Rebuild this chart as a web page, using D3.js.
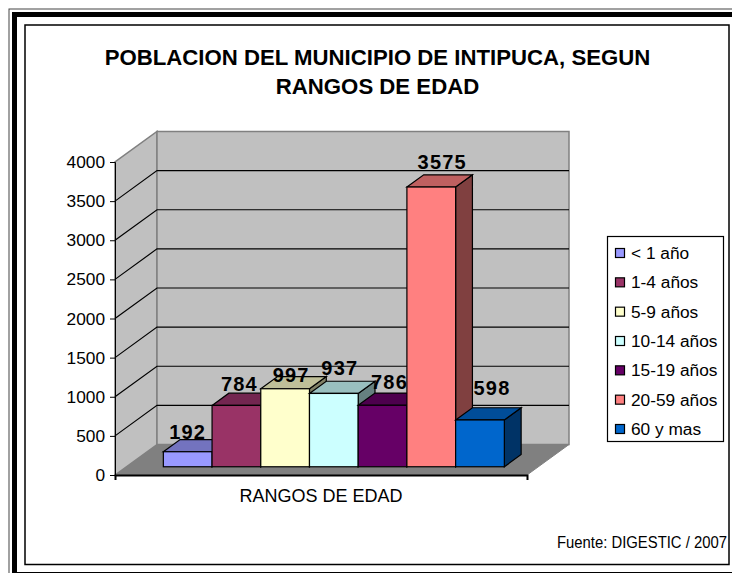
<!DOCTYPE html>
<html>
<head>
<meta charset="utf-8">
<script src="https://cdn.jsdelivr.net/npm/d3@7"></script>
<style>
  html, body { margin: 0; padding: 0; background: #fff; overflow: hidden; }
  text { font-family: "Liberation Sans", Arial, sans-serif; fill: #000; }
</style>
</head>
<body>
<div id="chart"></div>
<script>
// Values
const categories = ["< 1 año", "1-4 años", "5-9 años", "10-14 años", "15-19 años", "20-59 años", "60 y mas"];
const values = [192, 784, 997, 937, 786, 3575, 598];
const faceColors = ["#9999ff", "#993366", "#ffffcc", "#ccffff", "#660066", "#ff8080", "#0066cc"];
const topColors = ["#7373bf", "#732650", "#bfbf99", "#99bfbf", "#4d004d", "#bf6060", "#004d99"];
const sideColors = ["#4d4d80", "#4d1a33", "#808066", "#668080", "#330033", "#804040", "#003366"];
const yTicks = [0, 500, 1000, 1500, 2000, 2500, 3000, 3500, 4000];
const titleLines = ["POBLACION DEL MUNICIPIO DE INTIPUCA, SEGUN", "RANGOS DE EDAD"];

const width = 732, height = 573;
const svg = d3.select("#chart").append("svg")
    .attr("width", width)
    .attr("height", height)
    .style("display", "block");

// picture frame
const frame = svg.append("g").attr("fill", "none").attr("stroke", "#000");
frame.append("rect").attr("x", 9).attr("y", 9).attr("width", 740).attr("height", 580).attr("stroke", "#444");
frame.append("rect").attr("x", 14.5).attr("y", 14.5).attr("width", 730).attr("height", 560).attr("stroke-width", 5);
frame.append("rect").attr("x", 25).attr("y", 25).attr("width", 704).attr("height", 539.5).attr("stroke-width", 1.5);

// front plane scales, the back wall is the same thing shifted by depth
const depthX = 42, depthY = -30.5;
const y = d3.scaleLinear().domain([0, 4000]).range([475, 162]);
const x = d3.scaleBand().domain(categories).range([152, 493]);
const frontLeft = 115, frontRight = 527;

const pts = a => a.map(p => p.join(",")).join(" ");
const chart = svg.append("g");

// floor
chart.append("polygon")
    .attr("points", pts([[frontLeft, y(0)], [frontLeft + depthX, y(0) + depthY], [frontRight + depthX, y(0) + depthY], [frontRight, y(0)]]))
    .attr("fill", "#808080").attr("stroke", "#808080");

// side wall and back wall
chart.append("polygon")
    .attr("points", pts([[frontLeft, y(0)], [frontLeft, y(4000)], [frontLeft + depthX, y(4000) + depthY], [frontLeft + depthX, y(0) + depthY]]))
    .attr("fill", "#c0c0c0").attr("stroke", "#808080").attr("stroke-width", 1.5);
chart.append("rect")
    .attr("x", frontLeft + depthX).attr("y", y(4000) + depthY)
    .attr("width", frontRight - frontLeft).attr("height", y(0) - y(4000))
    .attr("fill", "#c0c0c0").attr("stroke", "#808080").attr("stroke-width", 1.5);

// gridlines run along the side wall and across the back
const grid = yTicks.filter(d => d > 0 && d < 4000);
chart.selectAll(".grid").data(grid).enter().append("polyline")
    .attr("class", "grid")
    .attr("points", d => pts([[frontLeft, y(d)], [frontLeft + depthX, y(d) + depthY], [frontRight + depthX, y(d) + depthY]]))
    .attr("fill", "none").attr("stroke", "#000").attr("stroke-width", 1.2);

// y axis
const yAxis = chart.append("g")
    .attr("transform", `translate(${frontLeft},0)`)
    .call(d3.axisLeft(y).tickValues(yTicks).tickSize(5).tickPadding(5).tickFormat(d3.format("d")));
yAxis.select(".domain").attr("stroke", "#000");
yAxis.selectAll("text").attr("font-size", 17.3);

// x axis line
const xLine = d3.scaleLinear().domain([0, 1]).range([frontLeft, frontRight]);
const xAxis = chart.append("g")
    .attr("transform", `translate(0,${y(0)})`)
    .call(d3.axisBottom(xLine).tickValues([0, 1]).tickSize(5).tickFormat(""));
xAxis.select(".domain").attr("stroke", "#000").attr("stroke-width", 2);

// bars, front sits a bit in from the front edge of the floor
const front = 0.27, back = 0.67;
const bars = chart.selectAll(".bar").data(categories).enter().append("g").attr("class", "bar");
const fx = (c, t) => x(c) + depthX * t;
const fy = (v, t) => y(v) + depthY * t;

bars.append("polygon")
    .attr("points", (c, i) => pts([
        [fx(c, front) + x.bandwidth(), fy(values[i], front)],
        [fx(c, back) + x.bandwidth(), fy(values[i], back)],
        [fx(c, back) + x.bandwidth(), fy(0, back)],
        [fx(c, front) + x.bandwidth(), fy(0, front)]]))
    .attr("fill", (c, i) => sideColors[i]).attr("stroke", "#000").attr("stroke-width", 1.2);
bars.append("polygon")
    .attr("points", (c, i) => pts([
        [fx(c, front), fy(values[i], front)],
        [fx(c, back), fy(values[i], back)],
        [fx(c, back) + x.bandwidth(), fy(values[i], back)],
        [fx(c, front) + x.bandwidth(), fy(values[i], front)]]))
    .attr("fill", (c, i) => topColors[i]).attr("stroke", "#000").attr("stroke-width", 1.2);
bars.append("rect")
    .attr("x", c => fx(c, front))
    .attr("y", (c, i) => fy(values[i], front))
    .attr("width", x.bandwidth())
    .attr("height", (c, i) => y(0) - y(values[i]))
    .attr("fill", (c, i) => faceColors[i]).attr("stroke", "#000").attr("stroke-width", 1.2);

// value labels, these were nudged by hand in the original
const labelNudgeX = [0, 3, 6, 6, 7, 11, 12];
const labelNudgeY = [-1, -2, 5, -6, -4, -6, -13];
chart.selectAll(".val").data(categories).enter().append("text")
    .attr("class", "val")
    .attr("x", (c, i) => fx(c, front) + x.bandwidth() / 2 + labelNudgeX[i])
    .attr("y", (c, i) => fy(values[i], back) + labelNudgeY[i])
    .attr("text-anchor", "middle")
    .attr("font-size", 20).attr("font-weight", "bold")
    .attr("letter-spacing", 1.2)
    .text((c, i) => values[i]);

// titles
svg.selectAll(".title").data(titleLines).enter().append("text")
    .attr("class", "title")
    .attr("x", 377.5)
    .attr("y", (d, i) => 65 + i * 29)
    .attr("text-anchor", "middle")
    .attr("font-size", 22.2).attr("font-weight", "bold")
    .text(d => d);

svg.append("text").attr("x", 321).attr("y", 502).attr("text-anchor", "middle")
    .attr("font-size", 18).text("RANGOS DE EDAD");

// the source text is squeezed sideways, so scale rather than shrink the font
svg.append("text")
    .attr("transform", "translate(557,547.5) scale(0.9,1)")
    .attr("font-size", 16.5)
    .text("Fuente: DIGESTIC / 2007");

// legend
const legendY = d3.scalePoint().domain(categories).range([253, 429]);
const legend = svg.append("g");
legend.append("rect").attr("x", 607.5).attr("y", 236.5).attr("width", 116).attr("height", 205)
    .attr("fill", "#fff").attr("stroke", "#000").attr("stroke-width", 1.2);
const rows = legend.selectAll(".row").data(categories).enter().append("g")
    .attr("class", "row")
    .attr("transform", c => `translate(615,${legendY(c)})`);
rows.append("rect").attr("x", 0.5).attr("y", -4.5).attr("width", 9).attr("height", 9)
    .attr("fill", (c, i) => faceColors[i]).attr("stroke", "#000").attr("stroke-width", 1.2);
rows.append("text").attr("x", 16).attr("y", 6).attr("font-size", 17.3).text(c => c);
</script>
</body>
</html>
